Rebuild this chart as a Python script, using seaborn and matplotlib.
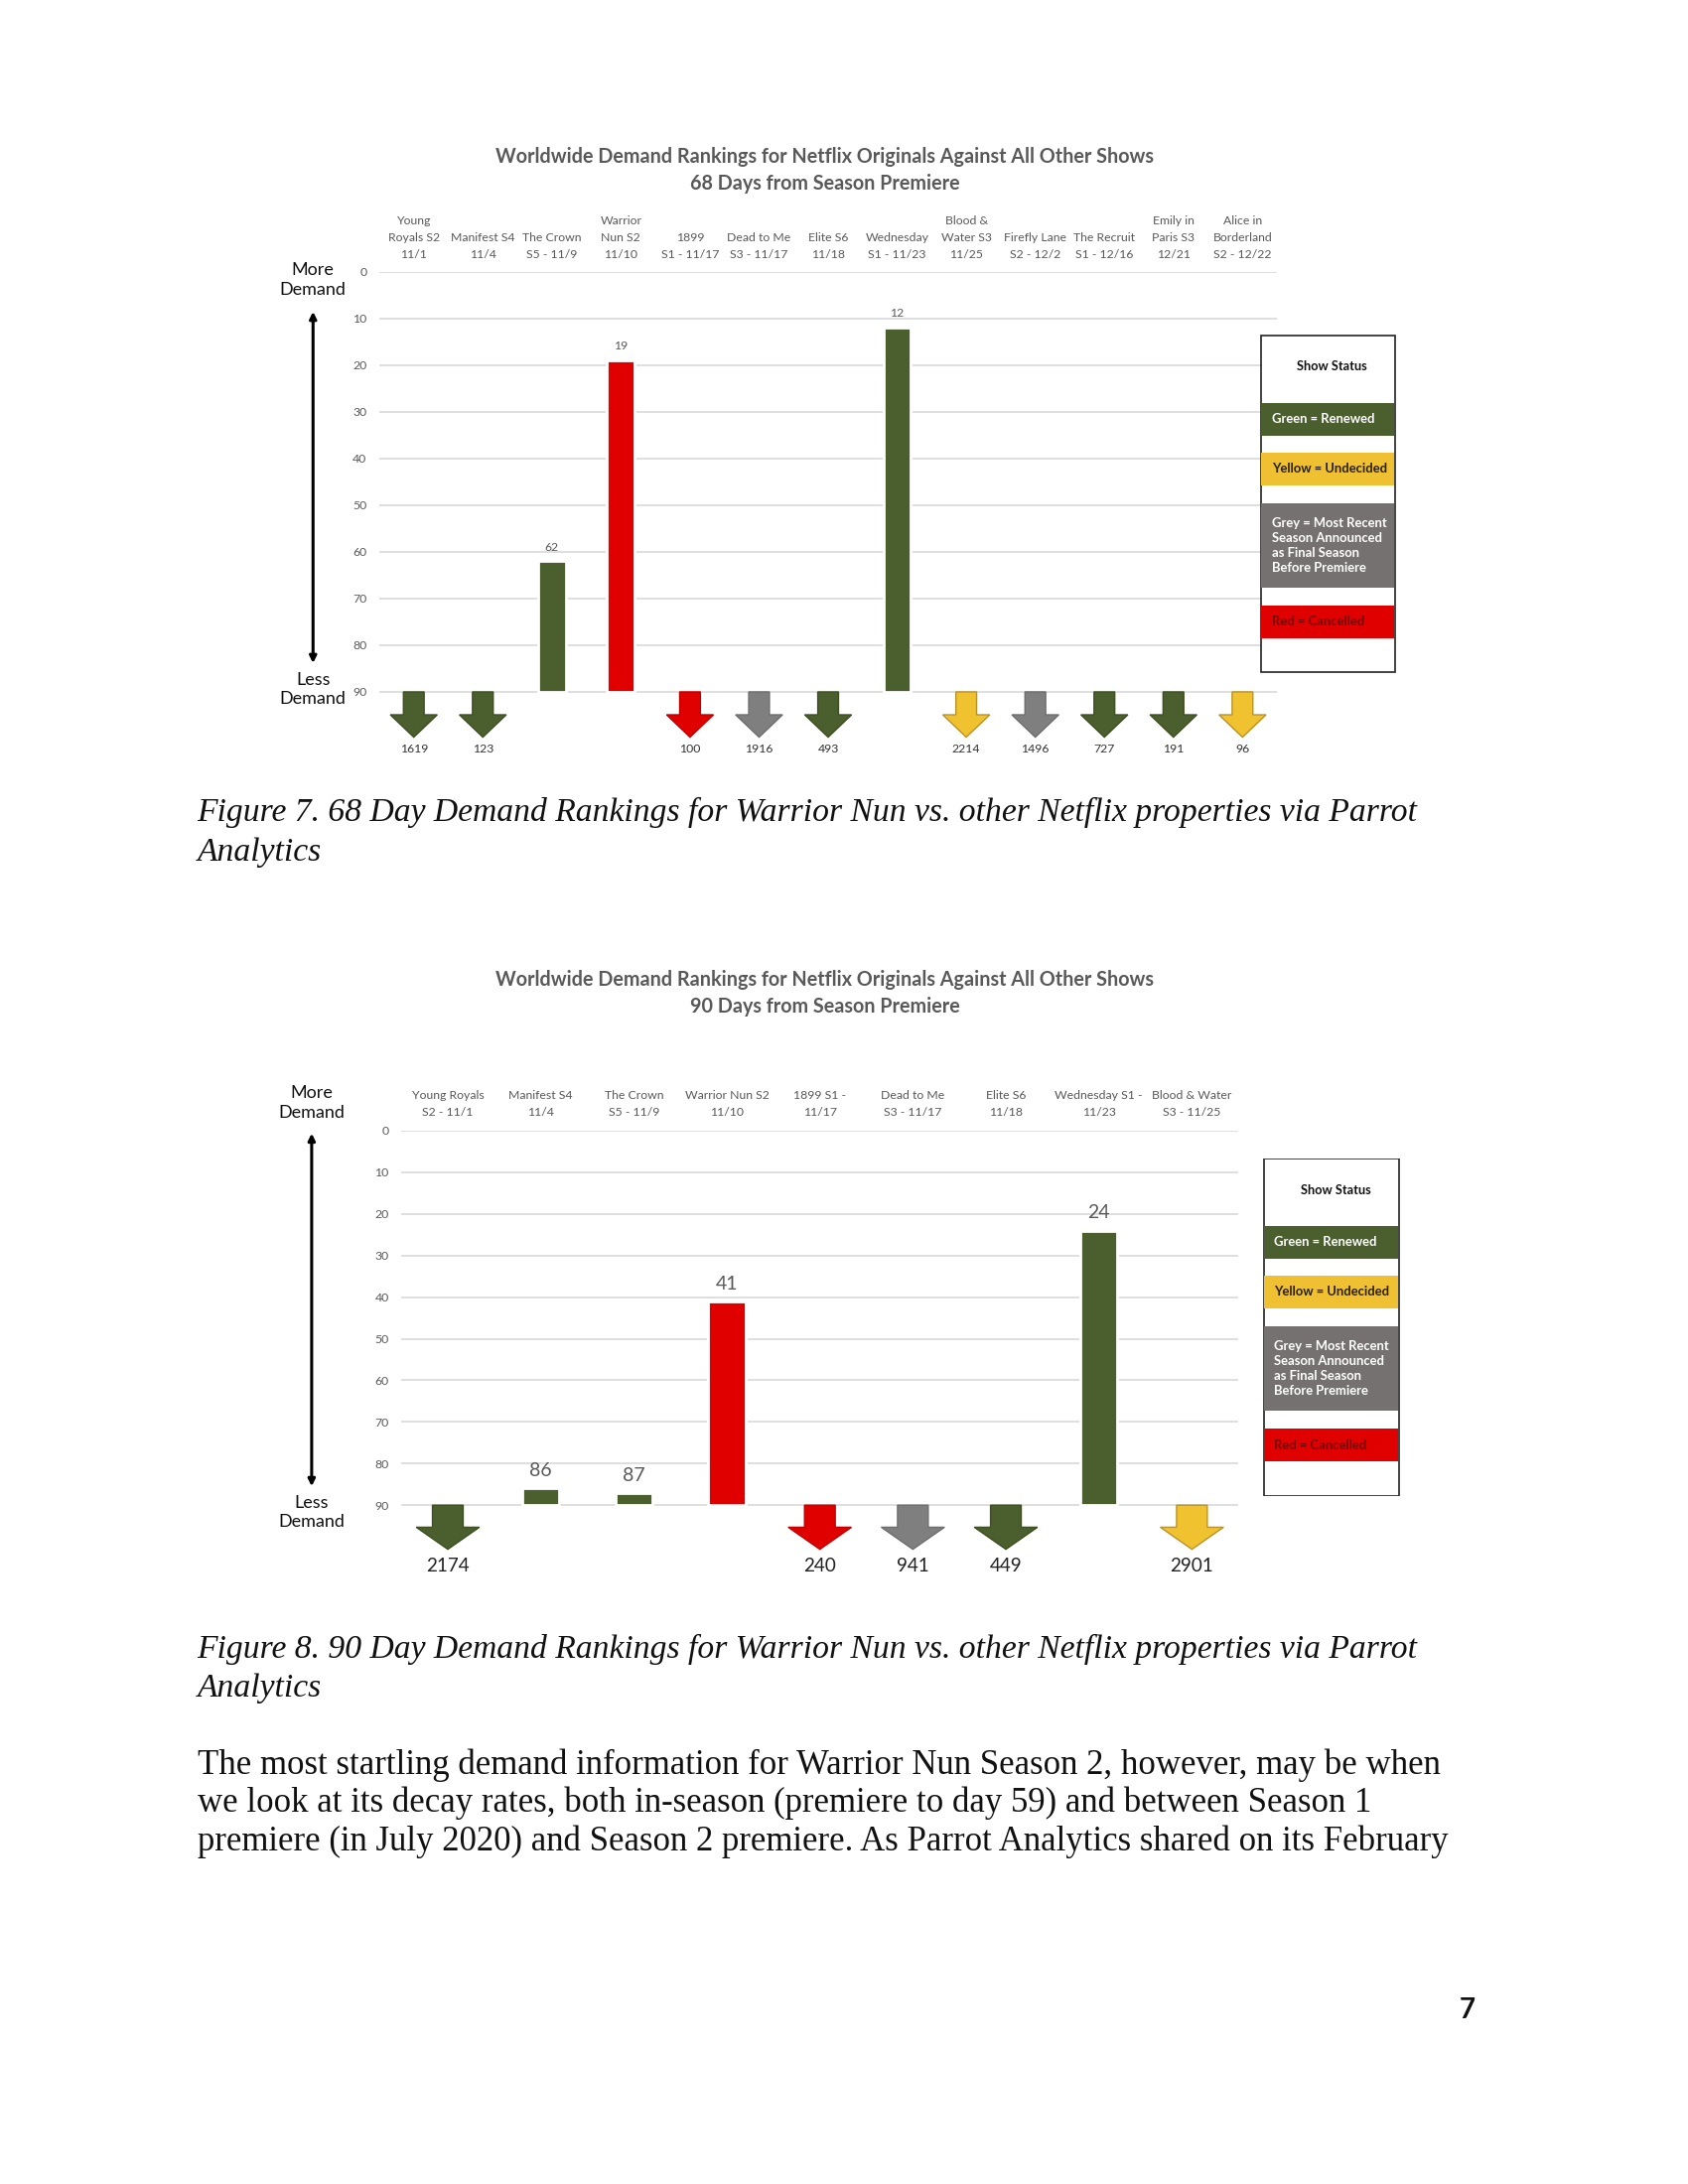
import numpy as np
import pandas as pd
import matplotlib
matplotlib.use("Agg")
import matplotlib.pyplot as plt
import seaborn as sns
from matplotlib.patches import Polygon, Rectangle, FancyArrowPatch

# ------------------------------------------------------------------ data
title_68 = "Worldwide Demand Rankings for Netflix Originals Against All Other Shows\n68 Days from Season Premiere"
shows_68 = ["Young\nRoyals S2\n11/1", "Manifest S4\n11/4", "The Crown\nS5 - 11/9",
            "Warrior\nNun S2\n11/10", "1899\nS1 - 11/17", "Dead to Me\nS3 - 11/17",
            "Elite S6\n11/18", "Wednesday\nS1 - 11/23", "Blood &\nWater S3\n11/25",
            "Firefly Lane\nS2 - 12/2", "The Recruit\nS1 - 12/16", "Emily in\nParis S3\n12/21",
            "Alice in\nBorderland\nS2 - 12/22"]
ranks_68 = [1619, 123, 62, 19, 100, 1916, 493, 12, 2214, 1496, 727, 191, 96]
status_68 = ["Renewed", "Renewed", "Renewed", "Cancelled", "Cancelled", "Final",
             "Renewed", "Renewed", "Undecided", "Final", "Renewed", "Renewed", "Undecided"]

title_90 = "Worldwide Demand Rankings for Netflix Originals Against All Other Shows\n90 Days from Season Premiere"
shows_90 = ["Young Royals\nS2 - 11/1", "Manifest S4\n11/4", "The Crown\nS5 - 11/9",
            "Warrior Nun S2\n11/10", "1899 S1 -\n11/17", "Dead to Me\nS3 - 11/17",
            "Elite S6\n11/18", "Wednesday S1 -\n11/23", "Blood & Water\nS3 - 11/25"]
ranks_90 = [2174, 86, 87, 41, 240, 941, 449, 24, 2901]
status_90 = ["Renewed", "Renewed", "Renewed", "Cancelled", "Cancelled", "Final",
             "Renewed", "Renewed", "Undecided"]

rank_ticks = [0, 10, 20, 30, 40, 50, 60, 70, 80, 90]
rank_floor = 90

legend_title = "Show Status"
legend_status = ["Renewed", "Undecided", "Final", "Cancelled"]
legend_labels = ["Green = Renewed", "Yellow = Undecided",
                 "Grey = Most Recent\nSeason Announced\nas Final Season\nBefore Premiere",
                 "Red = Cancelled"]

caption_7 = ["Figure 7. 68 Day Demand Rankings for Warrior Nun vs. other Netflix properties via Parrot",
             "Analytics"]
caption_8 = ["Figure 8. 90 Day Demand Rankings for Warrior Nun vs. other Netflix properties via Parrot",
             "Analytics"]
body_lines = ["The most startling demand information for Warrior Nun Season 2, however, may be when",
              "we look at its decay rates, both in-season (premiere to day 59) and between Season 1",
              "premiere (in July 2020) and Season 2 premiere. As Parrot Analytics shared on its February"]
page_number = "7"

# ------------------------------------------------------------------ styles
palette = {"Renewed": "#4B5E2D", "Undecided": "#F0C22F", "Final": "#7F7F7F", "Cancelled": "#E00000"}
edge = {"Renewed": "#3E4F24", "Undecided": "#B8922A", "Final": "#6E6E6E", "Cancelled": "#C00000"}
legend_fill = {"Renewed": "#4B5E2D", "Undecided": "#EEC032", "Final": "#767171", "Cancelled": "#E00000"}
legend_text = {"Renewed": "white", "Undecided": "#2A2000", "Final": "white", "Cancelled": "#7A0000"}

CHART_FONT = ["Lato", "DejaVu Sans"]
SERIF = ["Liberation Serif", "DejaVu Serif"]
GREY_TXT = "#595959"

sns.set_style("white")
plt.rcParams["font.family"] = CHART_FONT

W, H = 1224.0, 1584.0  # layout grid (page units)


def fx(x):
    return x / W


def fy(y):
    return 1 - y / H


fig = plt.figure(figsize=(8.5, 11), dpi=200)
fig.patch.set_facecolor("white")


def draw_chart(ax, shows, ranks, status, lab_fs, bar_fs, arr_fs, bar_pad,
               arr_len, head_len, head_w, shaft_w, arr_lab_y, ymin, lab_pad, arr_lab_color):
    n = len(shows)
    df = pd.DataFrame({"show": shows, "rank": ranks, "status": status})
    df["height"] = rank_floor - df["rank"]
    inside = df[df["rank"] <= rank_floor]
    sns.barplot(data=inside, x="show", y="height", hue="status", palette=palette,
                order=shows, dodge=False, width=0.4, saturation=1, legend=False,
                ax=ax, zorder=3)
    ax.set_xlim(-0.5, n - 0.5)
    ax.set_ylim(ymin, rank_floor)
    ax.set_xlabel("")
    ax.set_ylabel("")
    for s in ax.spines.values():
        s.set_visible(False)
    ax.set_yticks([rank_floor - r for r in rank_ticks])
    ax.set_yticklabels([str(r) for r in rank_ticks], fontsize=4.4, color=GREY_TXT)
    ax.yaxis.grid(True, color="#D9D9D9", lw=0.6)
    ax.set_axisbelow(True)
    ax.xaxis.tick_top()
    ax.set_xticks(range(n))
    ax.set_xticklabels(shows, fontsize=lab_fs, color=GREY_TXT, linespacing=1.7)
    ax.tick_params(axis="both", length=0)
    ax.tick_params(axis="y", pad=4.5)
    ax.tick_params(axis="x", pad=lab_pad)
    ax.set_facecolor("none")
    for i, (r, st) in enumerate(zip(ranks, status)):
        if r <= rank_floor:
            ax.text(i, rank_floor - r + bar_pad, str(r), ha="center", va="center",
                    fontsize=bar_fs, color=GREY_TXT, zorder=4)
        else:
            pts = [(i - shaft_w, 0), (i + shaft_w, 0), (i + shaft_w, -arr_len + head_len),
                   (i + head_w, -arr_len + head_len), (i, -arr_len),
                   (i - head_w, -arr_len + head_len), (i - shaft_w, -arr_len + head_len)]
            ax.add_patch(Polygon(pts, closed=True, facecolor=palette[st], edgecolor=edge[st],
                                 lw=0.5, zorder=3))
            ax.text(i, arr_lab_y, str(r), ha="center", va="center", fontsize=arr_fs,
                    color=arr_lab_color, zorder=4)


def draw_legend(x0, y0, w, h):
    lax = fig.add_axes([fx(x0), fy(y0 + h), fx(w), h / H])
    lax.set_xlim(0, w)
    lax.set_ylim(h, 0)
    lax.axis("off")
    lax.add_patch(Rectangle((0.3, 0.3), w - 0.6, h - 0.6, facecolor="white",
                            edgecolor="#222222", lw=0.6))
    lax.text(w / 2 + 3, 23, legend_title, ha="center", va="center", fontsize=4.6,
             fontweight="bold", color="#111111")
    rows = [(49, 73), (85, 109), (122, 183), (196, 220)]
    for (a, b), st, lab in zip(rows, legend_status, legend_labels):
        lax.add_patch(Rectangle((0.6, a), w - 1.5, b - a, facecolor=legend_fill[st],
                                edgecolor="none"))
        lax.text(8, (a + b) / 2, lab, ha="left", va="center", fontsize=4.7,
                 fontweight="bold", color=legend_text[st], linespacing=1.3)


def demand_arrow(x, y_more, y_less, y_arrow_top, y_arrow_bot, fs):
    fig.text(fx(x), fy(y_more), "More\nDemand", ha="center", va="center", fontsize=fs,
             color="#111111", linespacing=1.25)
    fig.text(fx(x), fy(y_less), "Less\nDemand", ha="center", va="center", fontsize=fs,
             color="#111111", linespacing=1.25)
    arr = FancyArrowPatch((fx(x), fy(y_arrow_bot)), (fx(x), fy(y_arrow_top)),
                          transform=fig.transFigure, arrowstyle="<|-|>", mutation_scale=5,
                          lw=1.1, color="black")
    fig.add_artist(arr)


# ------------------------------------------------------------------ chart 1 (68 days)
fig.text(fx(598), fy(123.5), title_68, ha="center", va="center", fontsize=7.1,
         fontweight="bold", color=GREY_TXT, linespacing=1.4)
ax1 = fig.add_axes([fx(275), fy(556), fx(926 - 275), (556 - 197) / H])
draw_chart(ax1, shows_68, ranks_68, status_68, lab_fs=4.4, bar_fs=4.4, arr_fs=4.4,
           bar_pad=3.0, arr_len=9.7, head_len=4.8, head_w=0.34, shaft_w=0.15,
           arr_lab_y=-12.3, ymin=-16, lab_pad=4.0, arr_lab_color="#333333")
draw_legend(914, 243, 98, 245)
demand_arrow(227, 203, 500, 222, 485, 6.5)

# ------------------------------------------------------------------ chart 2 (90 days)
fig.text(fx(598), fy(720.5), title_90, ha="center", va="center", fontsize=7.1,
         fontweight="bold", color=GREY_TXT, linespacing=1.4)
ax2 = fig.add_axes([fx(291), fy(1146), fx(898 - 291), (1146 - 820) / H])
draw_chart(ax2, shows_90, ranks_90, status_90, lab_fs=4.4, bar_fs=7.0, arr_fs=6.8,
           bar_pad=4.2, arr_len=10.6, head_len=5.3, head_w=0.34, shaft_w=0.165,
           arr_lab_y=-14.6, ymin=-18, lab_pad=4.5, arr_lab_color="#222222")
draw_legend(916, 840, 99, 245)
demand_arrow(226, 800, 1097, 818, 1082, 6.5)

# ------------------------------------------------------------------ page text
for k, line in enumerate(caption_7):
    fig.text(fx(143), fy(589 + 29 * k), line, ha="left", va="center", fontsize=12.1,
             fontstyle="italic", family=SERIF, color="#111111")
for k, line in enumerate(caption_8):
    fig.text(fx(143), fy(1196 + 28.5 * k), line, ha="left", va="center", fontsize=12.1,
             fontstyle="italic", family=SERIF, color="#111111")
for k, line in enumerate(body_lines):
    fig.text(fx(143), fy(1280 + 28 * k), line, ha="left", va="center", fontsize=12.5,
             family=SERIF, color="#111111")
fig.text(fx(1064), fy(1458), page_number, ha="center", va="center", fontsize=10,
         fontweight="bold", color="#111111")

fig.savefig("out.png", dpi=200, facecolor="white")
